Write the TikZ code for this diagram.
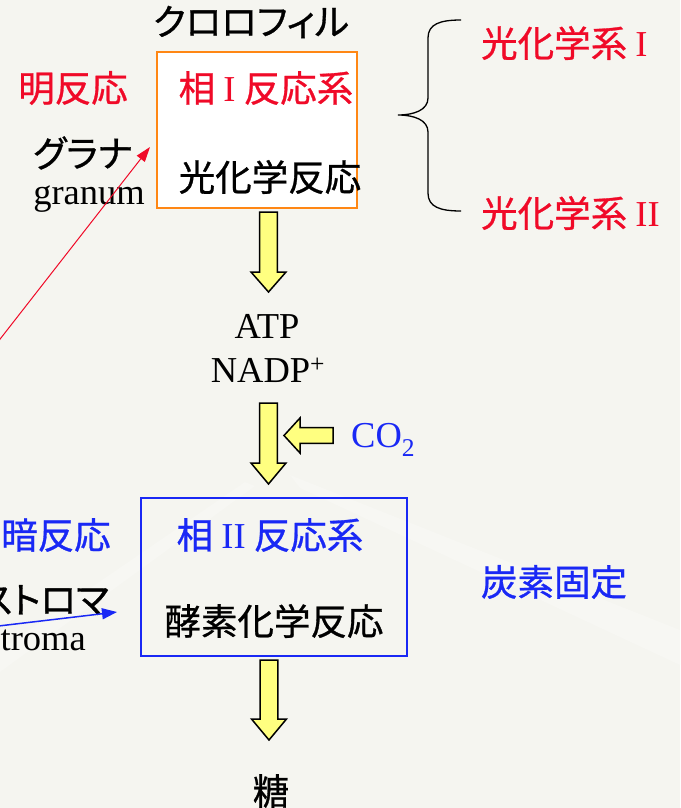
\documentclass[tikz,border=0pt]{standalone}
\usepackage{fontspec}
\setmainfont{Liberation Serif}
\newfontfamily\cjk[FakeBold=0.8]{Noto Sans CJK JP}
\newfontfamily\cjkp[FakeBold=0.8,RawFeature=+palt]{Noto Sans CJK JP}
\usetikzlibrary{arrows.meta}
\definecolor{bg}{RGB}{245,245,240}
\definecolor{streak}{RGB}{247,247,243}
\definecolor{myred}{RGB}{240,10,40}
\definecolor{myblue}{RGB}{25,40,245}
\definecolor{myorange}{RGB}{255,135,20}
\definecolor{fatyellow}{RGB}{255,255,128}
\newcommand\fatdown[4]{%
  \draw[fat] ({#1-8.8},#2) -- ({#1+8.8},#2) -- ({#1+8.8},#3) -- ({#1+17.5},#3) -- (#1,#4)
    -- ({#1-17.5},#3) -- ({#1-8.8},#3) -- cycle;}
\begin{document}
\begin{tikzpicture}[x=1pt,y=-1pt,
  jp/.style={font=\cjk\fontsize{36.5}{40}\selectfont, inner sep=0pt},
  kana/.style={font=\cjkp\fontsize{36.5}{40}\selectfont, inner sep=0pt},
  lat/.style={font=\fontsize{36.5}{40}\selectfont, inner sep=0pt},
  fat/.style={fill=fatyellow, draw=black, line width=1.5pt, line join=miter},
  box/.style={draw, fill=white, line width=2pt, inner sep=0pt}]
\useasboundingbox (0,0) rectangle (680,808);
\clip (0,0) rectangle (680,808);
\fill[bg] (0,0) rectangle (680,808);
\fill[streak] (290,475) -- (680,630) -- (680,665) -- (300,488) -- cycle;
\fill[streak] (0,650) -- (245,482) -- (255,486) -- (0,672) -- cycle;

% boxes
\node[box, draw=myorange, minimum width=200, minimum height=156] (box1) at (257,130) {};
\node[box, draw=myblue, fill=none, minimum width=266, minimum height=158] (box2) at (274,577) {};

% texts
\node[kana] (chl) at (251,22) {クロロフィル};
\node[jp, text=myred] (light) at (73,88) {明反応};
\node[jp, text=myred] (phase1) at (266,88) {相 {\rmfamily I} 反応系};
\node[jp] (photo) at (270,177) {光化学反応};
\node[kana] (grana) at (83,153) {グラナ};
\node[lat] (granum) at (89,199) {granum};
\node[jp, text=myred, anchor=west] (ps1) at (481,43) {光化学系 {\rmfamily I}};
\node[jp, text=myred, anchor=west] (ps2) at (481,213) {光化学系 {\rmfamily II}};
\node[lat] (atp) at (267,326) {ATP};
\node[lat] (nadp) at (268,370) {NADP\textsuperscript{+}};
\node[lat, text=myblue, anchor=west] (co2) at (351,440) {CO\textsubscript{2}};
\node[jp, text=myblue, anchor=west] (dark) at (1,535) {暗反応};
\node[jp, text=myblue] (phase2) at (270,535) {相 {\rmfamily II} 反応系};
\node[jp] (enz) at (274,621) {酵素化学反応};
\node[kana, anchor=east] (stroma) at (109,600) {ストロマ};
\node[lat, anchor=east] (stromaen) at (86,640) {stroma};
\node[jp, text=myblue] (cfix) at (554,582) {炭素固定};
\node[jp] (sugar) at (271,791) {糖};

% brace
\draw[line width=1.3pt] (461,20) .. controls (440,20) and (428,24) .. (428,38) -- (428,98)
  .. controls (428,110) and (414,115) .. (398,115)
  .. controls (414,115) and (428,120) .. (428,132) -- (428,193)
  .. controls (428,207) and (440,211) .. (461,211);

% thin arrows
\coordinate (rstart) at (-10,352);
\coordinate (rend) at (150,147);
\draw[myred, line width=1pt, -{Triangle[length=15pt,width=10pt]}] (rstart) -- (rend);
\coordinate (bstart) at (-10,627);
\coordinate (bend) at (117,612);
\draw[myblue, line width=1.5pt, -{Triangle[length=15pt,width=11pt]}] (bstart) -- (bend);

% fat arrows
\fatdown{268.5}{212}{272}{292}
\fatdown{268.5}{403}{463}{484}
\fatdown{269}{660}{719}{740}
\draw[fat] (333,427.7) -- (333,443.3) -- (300,443.3) -- (300,453) -- (284,435.5) -- (300,418) -- (300,427.7) -- cycle;
\end{tikzpicture}
\end{document}
